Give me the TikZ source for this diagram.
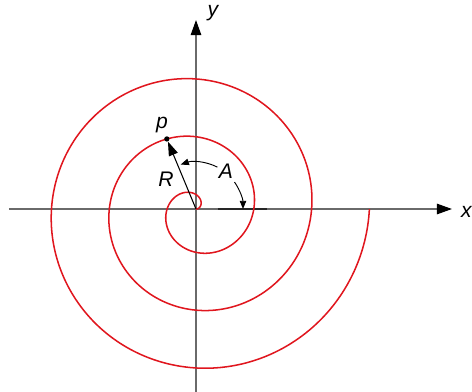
\documentclass[tikz,border=0pt]{standalone}
\usepackage{fontspec}
\setmainfont{Liberation Sans}
\usetikzlibrary{arrows.meta}
\definecolor{axisgray}{HTML}{6A6A6A}
\definecolor{spiralred}{HTML}{E0161E}

\begin{document}
\begin{tikzpicture}[x=0.03cm, y=0.03cm,
  axis/.style={draw=axisgray, line width=1.2pt},
  axistip/.style={-{Triangle[length=13pt, width=9pt, color=black]}},
  spiral/.style={draw=spiralred, line width=1.3pt},
  lbl/.style={font=\fontsize{18}{18}\selectfont\itshape, inner sep=0pt},
  dot/.style={circle, fill=black, inner sep=0pt, minimum size=4.5pt}]
  \useasboundingbox (-196,-183) rectangle (276,209);
  \def\a{9.2}
  \coordinate (O) at (0,0);
  \coordinate (xs) at (-187,0);
  \coordinate (xe) at (256,0);
  \coordinate (ys) at (0,-190);
  \coordinate (ye) at (0,189);
  \coordinate (r1) at (22,0);
  \coordinate (r2) at (71,0);
  \draw[axis, axistip] (xs) -- (xe);
  \draw[axis, axistip] (ys) -- (ye);
  \draw[line width=1.2pt, black!85] (r1) -- (r2);
  \node[lbl, anchor=east] (xl) at (276,-3) {x};
  \node[lbl] (yl) at (17,196) {y};
  \draw[spiral] plot[domain=0:6*pi, samples=400, smooth, variable=\t]
    ({\a*\t*cos(\t r)}, {\a*\t*sin(\t r)});
  \pgfmathsetmacro{\pr}{\a*(2*pi+112.6*pi/180)}
  \node[dot] (p) at (112.6:\pr) {};
  \draw[line width=0.9pt, -{Triangle[length=12pt, width=8pt]}] (O) -- (p);
  \node[lbl] (pl) at (-34,84) {p};
  \node[lbl] (R) at (-30,30) {R};
  \node[lbl] (A) at (30,38) {A};
  \coordinate (a1) at (35:47);
  \coordinate (a2) at (63:47);
  \draw[line width=0.8pt, -{Triangle[length=7pt, width=5.5pt]}] (a1) arc[start angle=35, end angle=0, radius=47];
  \draw[line width=0.8pt, -{Triangle[length=7pt, width=5.5pt]}] (a2) arc[start angle=63, end angle=109, radius=47];
\end{tikzpicture}
\end{document}
